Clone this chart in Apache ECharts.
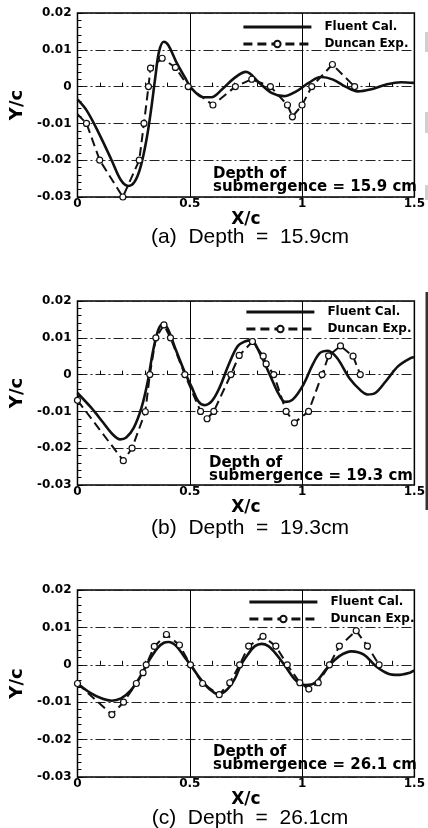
<!DOCTYPE html>
<html>
<head>
<meta charset="utf-8">
<script src="https://cdn.jsdelivr.net/npm/echarts@6/dist/echarts.min.js"></script>
<style>
  html, body { margin: 0; padding: 0; background: #fff; }
  #chart { width: 428px; height: 828px; }
</style>
</head>
<body>
<div id="chart"></div>
<script>
// values, [X/c, Y/c]
const fluentA = [[0,-0.0035],[0.042,-0.0066],[0.097,-0.0129],[0.152,-0.020],[0.193,-0.0254],[0.227,-0.027],[0.254,-0.0259],[0.281,-0.0218],[0.309,-0.0138],[0.329,-0.0057],[0.346,0.0023],[0.363,0.0095],[0.384,0.0122],[0.404,0.0113],[0.439,0.0068],[0.48,0.0023],[0.507,-0.0004],[0.561,-0.0029],[0.596,-0.0029],[0.643,-0.0008],[0.698,0.0023],[0.75,0.004],[0.81,0.001],[0.864,-0.0017],[0.919,-0.0026],[0.974,-0.0013],[1.029,0.001],[1.084,0.0026],[1.138,0.0019],[1.193,0],[1.248,-0.0013],[1.303,-0.0008],[1.371,0.0005],[1.44,0.0012],[1.5,0.001]];
const duncanA = [[0,-0.0075],[0.04,-0.01],[0.099,-0.02],[0.202,-0.03],[0.275,-0.02],[0.296,-0.01],[0.316,0],[0.325,0.005],[0.377,0.0077],[0.436,0.0052],[0.493,0],[0.603,-0.005],[0.703,0],[0.776,0.002],[0.859,0],[0.935,-0.005],[0.957,-0.0082],[1.0,-0.005],[1.043,0],[1.135,0.006],[1.234,0]];

const fluentB = [[0,-0.005],[0.061,-0.009],[0.115,-0.0131],[0.156,-0.0162],[0.19,-0.0176],[0.217,-0.0171],[0.251,-0.0144],[0.285,-0.009],[0.313,-0.0018],[0.336,0.0063],[0.36,0.0122],[0.38,0.0137],[0.401,0.0126],[0.435,0.0072],[0.476,0.0009],[0.51,-0.0036],[0.537,-0.0072],[0.564,-0.0083],[0.598,-0.0072],[0.632,-0.0036],[0.673,0.0027],[0.713,0.0077],[0.745,0.009],[0.772,0.0093],[0.815,0.0054],[0.856,0],[0.897,-0.0054],[0.924,-0.0074],[0.958,-0.0068],[1.006,-0.0027],[1.047,0.0027],[1.08,0.0059],[1.115,0.0065],[1.156,0.0045],[1.21,-0.0009],[1.264,-0.0045],[1.291,-0.0054],[1.326,-0.005],[1.373,-0.0018],[1.428,0.0023],[1.483,0.0045],[1.5,0.0047]];
const duncanB = [[0,-0.007],[0.204,-0.0234],[0.243,-0.02],[0.302,-0.0101],[0.322,0],[0.349,0.01],[0.385,0.0135],[0.414,0.01],[0.478,0],[0.548,-0.01],[0.577,-0.012],[0.607,-0.01],[0.683,0],[0.72,0.0052],[0.779,0.009],[0.827,0.005],[0.84,0.0029],[0.874,0],[0.929,-0.01],[0.966,-0.0131],[1.029,-0.01],[1.089,0],[1.118,0.0051],[1.171,0.0078],[1.227,0.005],[1.259,0]];

const fluentC = [[0,-0.005],[0.057,-0.0075],[0.112,-0.0091],[0.153,-0.0096],[0.194,-0.009],[0.235,-0.007],[0.276,-0.0035],[0.317,0.001],[0.358,0.0046],[0.385,0.0059],[0.406,0.0061],[0.44,0.005],[0.474,0.0023],[0.508,-0.0004],[0.549,-0.0039],[0.59,-0.0066],[0.624,-0.0078],[0.658,-0.0071],[0.699,-0.0039],[0.728,0],[0.76,0.0029],[0.79,0.005],[0.82,0.0056],[0.85,0.005],[0.88,0.0032],[0.921,0],[0.974,-0.0043],[1.017,-0.0054],[1.058,-0.0048],[1.112,-0.0008],[1.166,0.0023],[1.221,0.0036],[1.275,0.0027],[1.329,-0.0004],[1.384,-0.0024],[1.425,-0.0027],[1.48,-0.0021],[1.5,-0.0015]];
const duncanC = [[0,-0.005],[0.153,-0.0133],[0.205,-0.01],[0.262,-0.005],[0.292,-0.0021],[0.306,0],[0.342,0.0049],[0.396,0.0081],[0.454,0.0053],[0.503,0],[0.557,-0.005],[0.631,-0.008],[0.678,-0.0048],[0.722,0],[0.762,0.005],[0.826,0.0076],[0.883,0.005],[0.934,0],[0.99,-0.0048],[1.03,-0.0065],[1.072,-0.0048],[1.122,0],[1.166,0.005],[1.241,0.0091],[1.291,0.005],[1.343,0]];

const depths = ['15.9', '19.3', '26.1'];
const captions = ['(a)', '(b)', '(c)'];
const legendNames = ['Fluent Cal.', 'Duncan Exp.'];

// panel boxes in px: left, top, width, height
const boxes = [
  [53, 13, 366, 184],
  [55, 301, 365, 184],
  [56, 590, 369, 187]
];
const legendPos = [[242, 21], [245, 306], [248, 596]];
const notePos = [[213, 168], [209, 457], [213, 746]];
const captionY = [237, 528, 818];

const bold = 'DejaVu Sans';

const chart = echarts.init(document.getElementById('chart'));

function fluent(i, data) {
  return {
    name: 'Fluent Cal.', type: 'line', xAxisIndex: i, yAxisIndex: i,
    data: data, smooth: 0.35, symbol: 'none',
    itemStyle: { color: '#111' },
    lineStyle: { color: '#111', width: 2.6 }
  };
}
function duncan(i, data) {
  return {
    name: 'Duncan Exp.', type: 'line', xAxisIndex: i, yAxisIndex: i,
    data: data, smooth: false,
    symbol: i === 0 ? (v) => (v[0] === 0 ? 'none' : 'circle') : 'circle',
    symbolSize: 6,
    lineStyle: { color: '#111', width: 2, type: [9, 5] },
    itemStyle: { color: '#fff', borderColor: '#111', borderWidth: 1.2 }
  };
}

const option = {
  backgroundColor: '#fff',
  animation: false,
  grid: boxes.map(b => ({
    left: b[0], top: b[1], width: b[2], height: b[3],
    show: true, borderColor: '#000', borderWidth: 1.5, backgroundColor: 'transparent'
  })),
  xAxis: boxes.map((b, i) => ({
    type: 'value', gridIndex: i, min: 0, max: 1.5, interval: 0.5,
    axisLine: { show: false },
    axisTick: { show: true, inside: true, length: 5, lineStyle: { color: '#000' } },
    minorTick: { show: true, splitNumber: 5, length: 4, lineStyle: { color: '#000' } },
    splitLine: { show: true, lineStyle: { color: '#000', width: 1 } },
    axisLabel: { margin: 1, color: '#000', fontFamily: bold, fontWeight: 'bold', fontSize: 12 },
    name: 'X/c', nameLocation: 'middle', nameGap: 10,
    nameTextStyle: { color: '#000', fontFamily: bold, fontWeight: 'bold', fontSize: 17 }
  })),
  yAxis: boxes.map((b, i) => ({
    type: 'value', gridIndex: i, min: -0.03, max: 0.02, interval: 0.01,
    axisLine: { show: false },
    axisTick: { show: true, inside: true, length: 5, lineStyle: { color: '#000' } },
    minorTick: { show: true, splitNumber: 5, length: 4, lineStyle: { color: '#000' } },
    splitLine: { show: true, lineStyle: { color: '#222', width: 1, type: [10, 3, 2, 3] } },
    axisLabel: {
      margin: 6, color: '#000', fontFamily: bold, fontWeight: 'bold', fontSize: 12,
      formatter: v => String(+v.toFixed(2))
    },
    name: 'Y/c', nameLocation: 'middle', nameGap: 30, nameRotate: 90,
    nameTextStyle: { color: '#000', fontFamily: bold, fontWeight: 'bold', fontSize: 18 }
  })),
  legend: legendPos.map(p => ({
    data: [
      { name: legendNames[0], itemStyle: { opacity: 0 } },
      { name: legendNames[1] }
    ],
    orient: 'vertical', left: p[0], top: p[1], padding: 0,
    itemWidth: 68, itemHeight: 8, itemGap: 5, selectedMode: false,
    lineStyle: { width: 2.8 },
    textStyle: { color: '#000', fontFamily: bold, fontWeight: 'bold', fontSize: 12, padding: [0, 0, 0, 8] }
  })),
  series: [
    fluent(0, fluentA),
    duncan(1, duncanB), fluent(1, fluentB),
    duncan(2, duncanC), fluent(2, fluentC),
    duncan(0, duncanA)
  ],
  graphic: [
    ...notePos.map((p, i) => ({
      type: 'text', x: p[0], y: p[1], z: 10,
      style: {
        text: 'Depth of\nsubmergence = ' + depths[i] + ' cm',
        font: 'bold 15px DejaVu Sans', fill: '#000', lineHeight: 12.5, verticalAlign: 'top'
      }
    })),
    ...captionY.map((y, i) => ({
      type: 'text', x: 250, y: y,
      style: {
        text: captions[i] + '  Depth  =  ' + depths[i] + 'cm',
        font: '21px Liberation Sans', fill: '#000', align: 'center', verticalAlign: 'middle'
      }
    })),
    // scan artefacts at the right edge
    { type: 'rect', shape: { x: 425.5, y: 292, width: 2.5, height: 218 }, style: { fill: '#333' } },
    { type: 'rect', shape: { x: 425, y: 32, width: 3, height: 20 }, style: { fill: '#d0d0d0' } },
    { type: 'rect', shape: { x: 425, y: 112, width: 3, height: 21 }, style: { fill: '#d0d0d0' } },
    { type: 'rect', shape: { x: 425, y: 185, width: 3, height: 15 }, style: { fill: '#d0d0d0' } }
  ]
};

chart.setOption(option);
</script>
</body>
</html>
